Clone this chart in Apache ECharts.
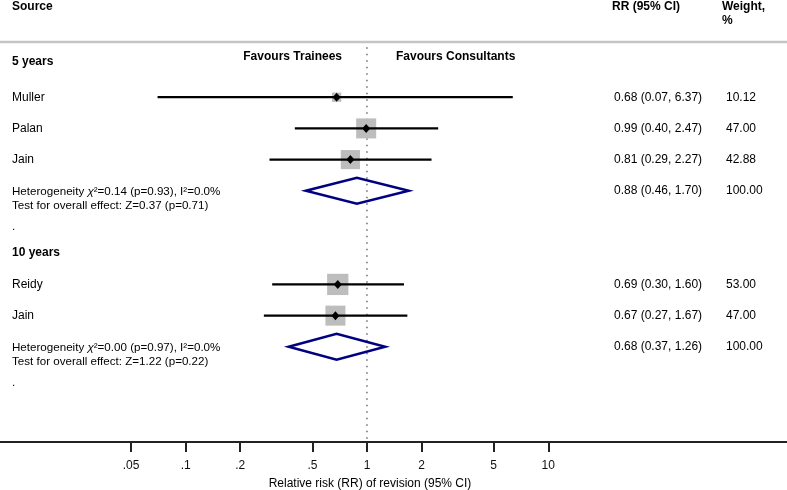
<!DOCTYPE html>
<html>
<head>
<meta charset="utf-8">
<script src="https://cdn.jsdelivr.net/npm/echarts@6/dist/echarts.min.js"></script>
<style>html,body{margin:0;padding:0;background:#fff}#c{width:787px;height:490px}</style>
</head>
<body>
<div id="c"></div>
<script>
// ---- data ----
const tickValues = [0.05, 0.1, 0.2, 0.5, 1, 2, 5, 10];
const tickLabels = ['.05', '.1', '.2', '.5', '1', '2', '5', '10'];

const groups = ['5 years', '10 years'];
const groupRows = [0, 6];

const studies = ['Muller', 'Palan', 'Jain', 'Reidy', 'Jain'];
const studyRows = [1, 2, 3, 7, 8];
const rr = [0.68, 0.99, 0.81, 0.69, 0.67];
const lower = [0.07, 0.40, 0.29, 0.30, 0.27];
const upper = [6.37, 2.47, 2.27, 1.60, 1.67];
const weights = [10.12, 47.00, 42.88, 53.00, 47.00];

const pooledRows = [4, 9];
const pooledRR = [0.88, 0.68];
const pooledLower = [0.46, 0.37];
const pooledUpper = [1.70, 1.26];
const pooledWeights = [100.00, 100.00];
const chi2 = ['0.14', '0.00'];
const chi2p = ['0.93', '0.97'];
const i2 = ['0.0', '0.0'];
const zval = ['0.37', '1.22'];
const zp = ['0.71', '0.22'];

// ---- chart ----
const FONT = '"Liberation Sans", Arial, sans-serif';
const L = Math.log10;
const fmt = v => v.toFixed(2);
const chart = echarts.init(document.getElementById('c'), null, {renderer: 'canvas'});

const studyData = studies.map((s, i) => [L(rr[i]), studyRows[i], L(lower[i]), L(upper[i]), weights[i]]);
const pooledData = pooledRows.map((r, i) => [L(pooledRR[i]), r, L(pooledLower[i]), L(pooledUpper[i])]);

const option = {
  animation: false,
  grid: {left: 0, right: 0, top: 44, bottom: 48},
  xAxis: {
    type: 'value', min: -2.024, max: 2.3166,
    splitLine: {show: false},
    axisLine: {show: true, onZero: false, lineStyle: {color: '#222', width: 2}},
    axisTick: {show: true, length: 10, lineStyle: {color: '#222', width: 2}, customValues: tickValues.map(L)},
    axisLabel: {
      customValues: tickValues.map(L), margin: 18, color: '#111', fontSize: 12, fontFamily: FONT,
      formatter: v => {
        let best = 0;
        tickValues.forEach((t, i) => { if (Math.abs(L(t) - v) < Math.abs(L(tickValues[best]) - v)) best = i; });
        return tickLabels[best];
      }
    }
  },
  yAxis: {type: 'value', inverse: true, min: -0.705, max: 12.05, show: false},
  series: [
    {
      type: 'line', data: [[0, -0.6], [0, 12.05]], symbol: 'none', silent: true,
      lineStyle: {color: '#222', width: 1, type: [1.5, 5]}, z: 1
    },
    {
      type: 'custom', data: studyData, z: 3,
      renderItem: (params, api) => {
        const y = api.value(1);
        const c = api.coord([api.value(0), y]);
        const lo = api.coord([api.value(2), y]);
        const hi = api.coord([api.value(3), y]);
        const s = 2.92 * Math.sqrt(api.value(4));
        return {type: 'group', children: [
          {type: 'rect', shape: {x: c[0] - s / 2, y: c[1] - s / 2, width: s, height: s}, style: {fill: '#bdbdbd'}},
          {type: 'line', shape: {x1: lo[0], y1: lo[1], x2: hi[0], y2: hi[1]}, style: {stroke: '#000', lineWidth: 2.2}},
          {type: 'polygon', shape: {points: [[c[0] - 4, c[1]], [c[0], c[1] - 4.5], [c[0] + 4, c[1]], [c[0], c[1] + 4.5]]}, style: {fill: '#000'}}
        ]};
      }
    },
    {
      type: 'custom', data: pooledData, z: 3,
      renderItem: (params, api) => {
        const y = api.value(1);
        const c = api.coord([api.value(0), y]);
        const lo = api.coord([api.value(2), y]);
        const hi = api.coord([api.value(3), y]);
        const h = 13;
        return {type: 'polygon', shape: {points: [[lo[0], c[1]], [c[0], c[1] - h], [hi[0], c[1]], [c[0], c[1] + h]]},
          style: {fill: 'none', stroke: '#000080', lineWidth: 2.5, lineJoin: 'miter'}};
      }
    }
  ]
};
chart.setOption(option);

const rowY = r => chart.convertToPixel({yAxisIndex: 0}, r);
const txt = (text, x, y, opt = {}) => ({
  type: 'text', x, y, silent: true,
  style: {text, fill: '#000', font: (opt.bold ? 'bold ' : '') + (opt.size || 12) + 'px ' + FONT,
    align: opt.align || 'left', verticalAlign: 'middle'}
});

const X_LEFT = 12, X_RR = 614, X_W = 726;
const g = [];
g.push({type: 'line', shape: {x1: 0, y1: 42, x2: 787, y2: 42}, style: {stroke: '#c4c4c4', lineWidth: 2.5}, silent: true});
g.push(txt('Source', X_LEFT, 7, {bold: true}));
g.push(txt('RR (95% CI)', 612, 7, {bold: true}));
g.push(txt('Weight,', 722, 7, {bold: true}));
g.push(txt('%', 722, 21, {bold: true}));
g.push(txt('Favours Trainees', 342, 57, {bold: true, align: 'right'}));
g.push(txt('Favours Consultants', 396, 57, {bold: true}));
groups.forEach((name, i) => g.push(txt(name, X_LEFT, rowY(groupRows[i]) - 4 + i * 3, {bold: true})));
studies.forEach((name, i) => {
  const y = rowY(studyRows[i]);
  g.push(txt(name, X_LEFT, y));
  g.push(txt(`${fmt(rr[i])} (${fmt(lower[i])}, ${fmt(upper[i])})`, X_RR, y));
  g.push(txt(fmt(weights[i]), X_W, y));
});
pooledRows.forEach((r, i) => {
  const y = rowY(r);
  g.push({
    type: 'text', x: X_LEFT, y: y + 0.5, silent: true,
    style: {
      text: `Heterogeneity {it|χ}²=${chi2[i]} (p=${chi2p[i]}), I²=${i2[i]}%`,
      font: '11.6px ' + FONT, fill: '#000', verticalAlign: 'middle',
      rich: {it: {fontStyle: 'italic', fontSize: 11.6, fontFamily: FONT}}
    }
  });
  g.push(txt(`Test for overall effect: Z=${zval[i]} (p=${zp[i]})`, X_LEFT, y + 15, {size: 11.6}));
  g.push(txt('.', X_LEFT, y + 36, {size: 11.6}));
  g.push(txt(`${fmt(pooledRR[i])} (${fmt(pooledLower[i])}, ${fmt(pooledUpper[i])})`, X_RR, y));
  g.push(txt(fmt(pooledWeights[i]), X_W, y));
});
g.push(txt('Relative risk (RR) of revision (95% CI)', 370, 484, {align: 'center'}));
chart.setOption({graphic: g});
</script>
</body>
</html>
